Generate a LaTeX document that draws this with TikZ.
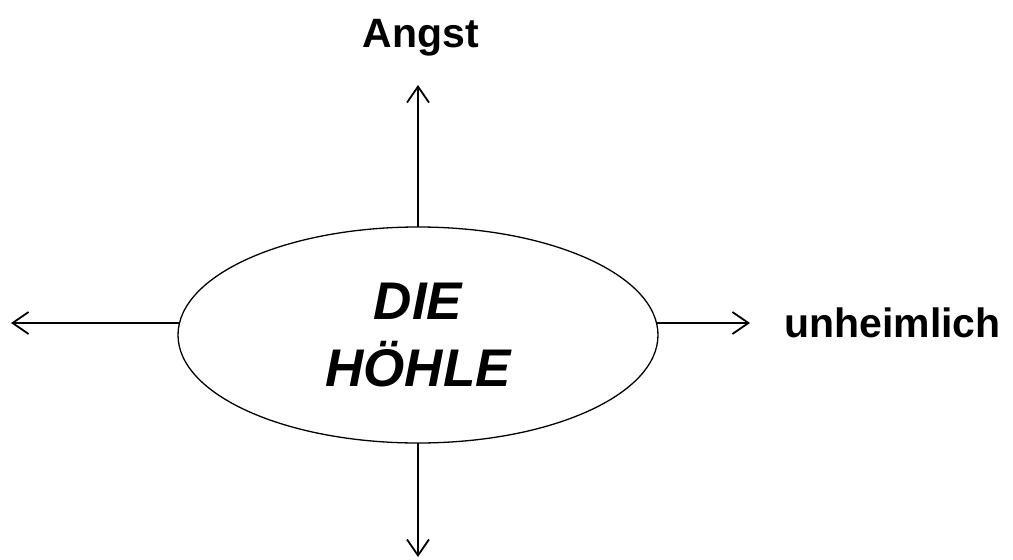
\documentclass[tikz,border=0pt]{standalone}
\usepackage{fontspec}
\setmainfont{Liberation Sans}
\usetikzlibrary{shapes.geometric,arrows.meta,calc}
\begin{document}
\begin{tikzpicture}[x=1pt,y=1pt,
  conn/.style={line width=1.8pt,-{Straight Barb[length=16pt,width=22pt,line width=1.8pt]}},
  lbl/.style={font=\fontsize{41}{49}\selectfont\bfseries,inner sep=0pt}]
\useasboundingbox (0,0) rectangle (1013,-560);
\node[ellipse,draw,line width=1.3pt,minimum width=480pt,minimum height=216pt,inner sep=0pt,outer sep=0pt,
      align=center,font=\fontsize{53}{67}\selectfont\bfseries\itshape] (e) at (418,-335) {DIE\\HÖHLE};
\coordinate (up) at (418,-85);
\coordinate (down) at (418,-557);
\coordinate (left) at (11,-323);
\coordinate (right) at (750,-323);
\coordinate (eL) at ($(e.center)+(-238.5,12)$);
\coordinate (eR) at ($(e.center)+(238.5,12)$);
\draw[conn] (e.north) -- (up);
\draw[conn] (e.south) -- (down);
\draw[conn] (eL) -- (left);
\draw[conn] (eR) -- (right);
\node[lbl,anchor=base] (angst) at (421,-47) {Angst};
\node[lbl,anchor=base west] (unh) at (784,-337) {unheimlich};
\end{tikzpicture}
\end{document}
